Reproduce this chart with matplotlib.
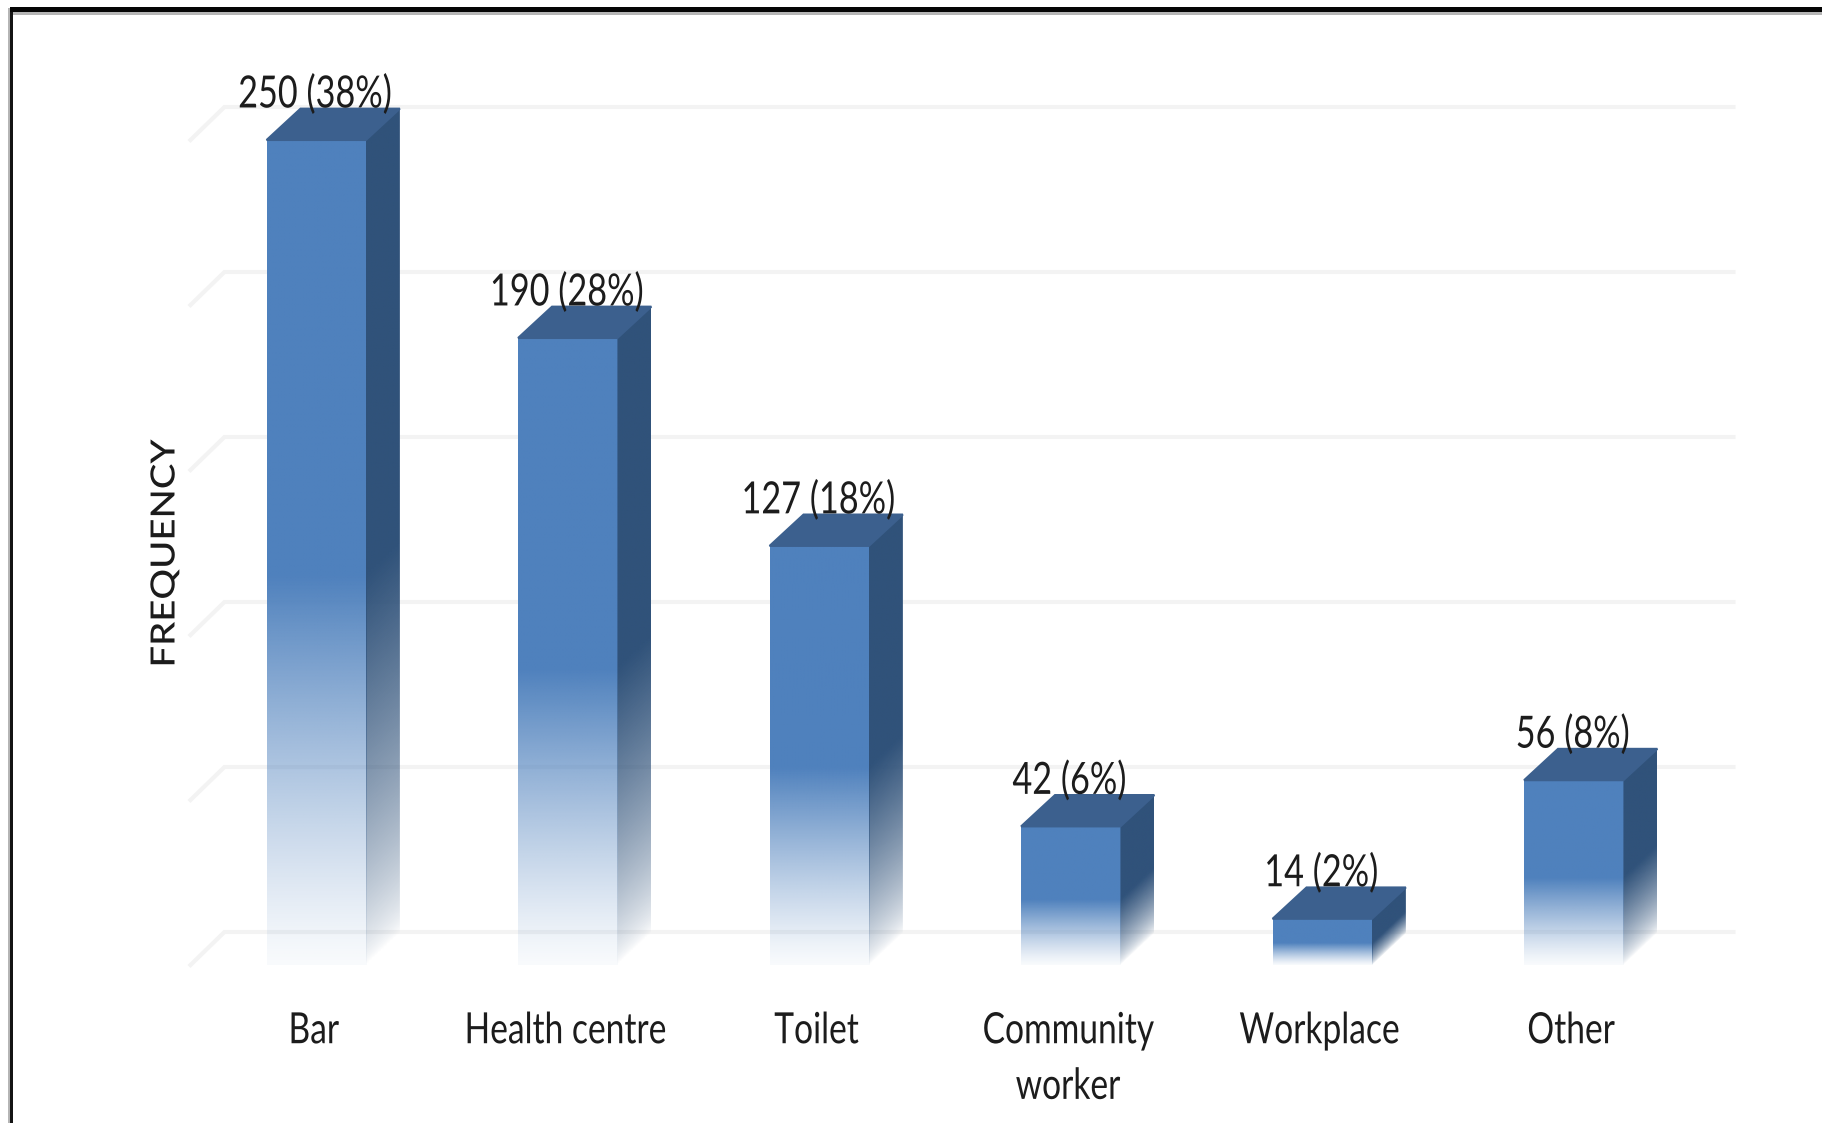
import numpy as np
from matplotlib import patheffects
from matplotlib import pyplot as plt
from matplotlib.colors import to_rgb
from matplotlib.patches import Polygon, Rectangle
from matplotlib.transforms import Affine2D

categories = ["Bar", "Health centre", "Toilet", "Community\nworker", "Workplace", "Other"]
frequency = [250, 190, 127, 42, 14, 56]
percent = [38, 28, 18, 6, 2, 8]
grid_values = [0, 50, 100, 150, 200, 250]

FRONT = "#4f81bd"
SIDE = "#30527a"
TOP = "#3c608e"
GRID = "#f3f3f3"
TEXT = "#1c1c1c"

BAR_WIDTH = 0.395
DEPTH_X = 0.135
DEPTH_Y = 9.5
FADE_START = 0.47

plt.rcParams["font.family"] = ["Lato", "DejaVu Sans"]

fig = plt.figure(figsize=(18.22, 11.23), dpi=100, facecolor="white")
ax = fig.add_axes([190.5 / 1822, 158 / 1123, 1509 / 1822, 891 / 1123])


class Squeeze(patheffects.AbstractPathEffect):
    # rescales each line of text along its baseline around its own centre
    def __init__(self, factor, shift=0):
        super().__init__()
        self.factor = factor
        self.shift = shift

    def draw_path(self, renderer, gc, tpath, affine, rgbFace=None):
        ext = tpath.get_extents()
        centre = (ext.x0 + ext.x1) / 2
        narrow = Affine2D().scale(self.factor, 1).translate((1 - self.factor) * centre, 0)
        renderer.draw_path(gc, tpath, narrow + affine + Affine2D().translate(self.shift, 0), rgbFace)


def fade_image(color, alpha):
    rgba = np.zeros(alpha.shape + (4,))
    rgba[..., :3] = to_rgb(color)
    rgba[..., 3] = alpha
    return rgba


def draw_bar(x, height):
    left = x - BAR_WIDTH / 2
    right = x + BAR_WIDTH / 2

    # front face, solid at the top and fading out towards the floor
    ys = np.linspace(0, height, 256)
    alpha = np.clip(ys / (FADE_START * height), 0, 1) ** 1.2 * 0.96 + 0.04
    ax.imshow(fade_image(FRONT, alpha[:, None]), origin="lower", aspect="auto",
              extent=(left, right, 0, height), zorder=3, interpolation="bilinear")

    # side face, the fade follows the slant of the depth
    us = np.linspace(0, 1, 40)
    vs = np.linspace(0, height + DEPTH_Y, 300)
    uu, vv = np.meshgrid(us, vs)
    alpha = np.clip((vv - uu * DEPTH_Y) / (FADE_START * height), 0, 1) ** 0.7
    side = ax.imshow(fade_image(SIDE, alpha), origin="lower", aspect="auto",
                     extent=(right, right + DEPTH_X, 0, height + DEPTH_Y),
                     zorder=3, interpolation="bilinear")
    side.set_clip_path(Polygon([(right, 0), (right + DEPTH_X, DEPTH_Y),
                                (right + DEPTH_X, height + DEPTH_Y), (right, height)],
                               transform=ax.transData))

    ax.add_patch(Polygon([(left, height), (right, height),
                          (right + DEPTH_X, height + DEPTH_Y), (left + DEPTH_X, height + DEPTH_Y)],
                         facecolor=TOP, edgecolor=TOP, lw=1.5, zorder=4, clip_on=False))


# floor and back wall lines
for value in grid_values:
    ax.plot([-0.5, -0.5 + DEPTH_X, 5.5 + DEPTH_X], [value, value + 10, value + 10],
            color=GRID, lw=3, zorder=1, clip_on=False, solid_joinstyle="miter")

xs = np.arange(len(categories))
for x, count, share in zip(xs, frequency, percent):
    draw_bar(x, count)
    label = ax.annotate(f"{count} ({share}%)", (x, count), xytext=(0, 32.5), textcoords="offset points",
                        ha="center", va="center", fontsize=32, color=TEXT, zorder=6)
    label.set_path_effects([Squeeze(0.77, shift=-1)])

ax.set_xlim(-0.5, 5.5)
ax.set_ylim(0, 270)
ax.set_xticks(xs, categories, fontsize=31, color=TEXT, linespacing=1.57)
ax.set_yticks([])
ax.tick_params(axis="x", length=0, pad=34)
for tick_label in ax.get_xticklabels():
    tick_label.set_path_effects([Squeeze(0.78, shift=-3)])
for spine in ax.spines.values():
    spine.set_visible(False)
ax.patch.set_alpha(0)

ylabel = ax.set_ylabel("FREQUENCY", fontsize=24, weight="medium", color=TEXT)
ylabel.set_path_effects([Squeeze(1.15)])
ax.yaxis.set_label_coords(-10 / 1509, (965 - 553) / 891)

# picture frame along the top and left edges
fig.add_artist(Rectangle((8 / 1822, 0), 2 / 1822, 1 - 8 / 1123, transform=fig.transFigure,
                         facecolor="#b5b5b5", edgecolor="none"))
fig.add_artist(Rectangle((10 / 1822, 0), 3 / 1822, 1 - 12 / 1123, transform=fig.transFigure,
                         facecolor="#141414", edgecolor="none"))
fig.add_artist(Rectangle((10 / 1822, 1 - 12 / 1123), 1 - 10 / 1822, 5 / 1123, transform=fig.transFigure,
                         facecolor="#050505", edgecolor="none"))
fig.add_artist(Rectangle((13 / 1822, 1 - 15 / 1123), 1 - 13 / 1822, 3 / 1123, transform=fig.transFigure,
                         facecolor="#b5b5b5", edgecolor="none"))

fig.savefig("out.png", dpi=100)
